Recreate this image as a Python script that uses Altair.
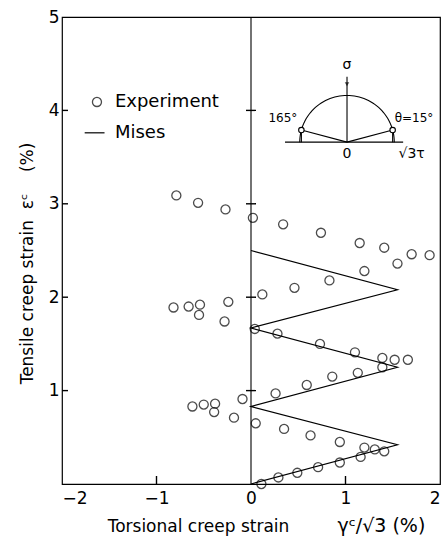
import altair as alt
import pandas as pd
import numpy as np

# ---- data ----
exp_x = [-0.79, -0.56, -0.27, 0.02, 0.34, 0.74, 1.15, 1.41, 1.70, 1.89,
         1.55, 1.20, 0.83, 0.46, 0.12,
         -0.82, -0.66, -0.54, -0.55, -0.24, -0.28,
         0.04, 0.28, 0.73, 1.10, 1.39, 1.52, 1.66,
         1.39, 1.13, 0.86, 0.59, 0.26, -0.09,
         -0.62, -0.50, -0.38, -0.39, -0.18,
         0.05, 0.35, 0.63, 0.94, 1.20, 1.31, 1.41,
         1.16, 0.94, 0.71, 0.49, 0.29, 0.11]
exp_y = [3.09, 3.01, 2.94, 2.85, 2.78, 2.69, 2.58, 2.53, 2.46, 2.45,
         2.36, 2.28, 2.18, 2.10, 2.03,
         1.89, 1.90, 1.92, 1.81, 1.95, 1.74,
         1.66, 1.61, 1.50, 1.41, 1.35, 1.33, 1.33,
         1.25, 1.19, 1.15, 1.06, 0.97, 0.91,
         0.83, 0.85, 0.86, 0.77, 0.71,
         0.65, 0.59, 0.52, 0.45, 0.39, 0.37, 0.35,
         0.29, 0.23, 0.18, 0.12, 0.07, 0.00]

mises_x = [0.0, 1.55, 0.0, 1.55, 0.0, 1.55, 0.0]
mises_y = [0.0, 0.42, 0.83, 1.25, 1.67, 2.08, 2.50]

x_ticks = [-2, -1, 0, 1, 2]
y_ticks = [1, 2, 3, 4, 5]
inner_x_ticks = [-1.0, 1.0]
inner_y_ticks = [1.0, 2.0, 3.0, 4.0]
cross_y = [1.0, 2.0, 3.0, 4.0]

# inset (stress-space sketch) geometry in data units
inset_cx, inset_cy, inset_r = 1.016, 3.66, 0.5
inset_angles = [15, 165]

FONT = "DejaVu Sans"
W, H = 378, 467
NB = "\u00a0"

xs = alt.Scale(domain=[-2, 2], nice=False, zero=False)
ys = alt.Scale(domain=[0, 5], nice=False, zero=False)

exp_df = pd.DataFrame({"x": exp_x, "y": exp_y})
mises_df = pd.DataFrame({"x": mises_x, "y": mises_y, "o": range(len(mises_x))})

points = alt.Chart(exp_df).mark_point(
    shape="circle", filled=False, color="black", size=82, strokeWidth=1.3
).encode(
    x=alt.X("x:Q", scale=xs, axis=alt.Axis(values=x_ticks, format="d", ticks=False, domain=False, grid=False,
                                             labelFontSize=17, labelFont=FONT, labelPadding=6,
                                             labelColor="black",
                                             title="Torsional creep strain",
                                             titleFont=FONT, titleFontSize=17, titleFontWeight="normal",
                                             titleColor="black", titleX=136, titleY=42,
                                             titleAlign="center", titleBaseline="middle")),
    y=alt.Y("y:Q", scale=ys, axis=alt.Axis(values=y_ticks, format="d", ticks=False, domain=False, grid=False,
                                             labelFontSize=17, labelFont=FONT, labelPadding=3,
                                             labelColor="black",
                                             title="Tensile creep strain" + NB * 2 + "εᶜ" + NB * 4 + "(%)",
                                             titleFont=FONT, titleFontSize=17, titleFontWeight="normal",
                                             titleColor="black", titleX=-35, titleY=246, titleAngle=270,
                                             titleAlign="center", titleBaseline="middle")),
)

xmath = alt.Chart(pd.DataFrame({"x": [1.38], "y": [-0.45], "t": ["γᶜ/√3" + NB + "(%)"]})).mark_text(
    align="center", baseline="middle", font=FONT, fontSize=19, color="black").encode(
    x=alt.X("x:Q", scale=xs), y=alt.Y("y:Q", scale=ys), text="t:N")

mises = alt.Chart(mises_df).mark_line(color="black", strokeWidth=1.2).encode(
    x=alt.X("x:Q", scale=xs), y=alt.Y("y:Q", scale=ys), order="o:Q")

zero_line = alt.Chart(pd.DataFrame({"x": [0.0]})).mark_rule(color="black", strokeWidth=1.1).encode(
    x=alt.X("x:Q", scale=xs))

# inward ticks (positions from scales, lengths in pixels)
vticks = alt.Chart(pd.DataFrame({"x": inner_x_ticks})).mark_rule(color="black", strokeWidth=1.4).encode(
    x=alt.X("x:Q", scale=xs), y=alt.value(H), y2=alt.value(H - 8))
hticks = alt.Chart(pd.DataFrame({"y": inner_y_ticks})).mark_rule(color="black", strokeWidth=1.4).encode(
    y=alt.Y("y:Q", scale=ys), x=alt.value(0), x2=alt.value(6))
crosses = alt.Chart(pd.DataFrame({"y": cross_y})).mark_rule(color="black", strokeWidth=1.4).encode(
    y=alt.Y("y:Q", scale=ys), x=alt.value(W / 2 - 5), x2=alt.value(W / 2 + 5))

# legend
leg_pt = alt.Chart(pd.DataFrame({"x": [-1.63], "y": [4.09]})).mark_point(
    shape="circle", filled=False, color="black", size=82, strokeWidth=1.3).encode(
    x=alt.X("x:Q", scale=xs), y=alt.Y("y:Q", scale=ys))
leg_line = alt.Chart(pd.DataFrame({"x": [-1.76], "x2": [-1.55], "y": [3.76]})).mark_rule(
    color="black", strokeWidth=1.2).encode(
    x=alt.X("x:Q", scale=xs), x2="x2:Q", y=alt.Y("y:Q", scale=ys))
leg_txt = alt.Chart(pd.DataFrame({"x": [-1.44, -1.44], "y": [4.09, 3.76],
                                  "t": ["Experiment", "Mises"]})).mark_text(
    align="left", baseline="middle", font=FONT, fontSize=18, color="black").encode(
    x=alt.X("x:Q", scale=xs), y=alt.Y("y:Q", scale=ys), text="t:N")

# inset sketch
th = np.radians(np.arange(0, 181, 3))
arc_df = pd.DataFrame({"x": inset_cx + inset_r * np.cos(th),
                       "y": inset_cy + inset_r * np.sin(th), "o": np.arange(len(th))})
arc = alt.Chart(arc_df).mark_line(color="black", strokeWidth=1.1).encode(
    x=alt.X("x:Q", scale=xs), y=alt.Y("y:Q", scale=ys), order="o:Q")

pa = np.radians(inset_angles)
px_ = inset_cx + inset_r * np.cos(pa)
py_ = inset_cy + inset_r * np.sin(pa)
seg_rows = [
    {"x": 0.36, "y": inset_cy, "x2": 1.61, "y2": inset_cy},
    {"x": inset_cx, "y": inset_cy, "x2": inset_cx, "y2": 4.36},
]
for a, b in zip(px_, py_):
    seg_rows.append({"x": inset_cx, "y": inset_cy, "x2": a, "y2": b})
    seg_rows.append({"x": a, "y": inset_cy, "x2": a, "y2": b})
segs = alt.Chart(pd.DataFrame(seg_rows)).mark_rule(color="black", strokeWidth=1.1).encode(
    x=alt.X("x:Q", scale=xs), y=alt.Y("y:Q", scale=ys), x2="x2:Q", y2="y2:Q")
arrow = alt.Chart(pd.DataFrame({"x": [inset_cx], "y": [4.28]})).mark_point(
    shape="triangle-down", filled=True, color="black", size=20).encode(
    x=alt.X("x:Q", scale=xs), y=alt.Y("y:Q", scale=ys))
ipts = alt.Chart(pd.DataFrame({"x": px_, "y": py_})).mark_point(
    shape="circle", filled=True, fill="white", stroke="black", size=30, strokeWidth=1.1, opacity=1).encode(
    x=alt.X("x:Q", scale=xs), y=alt.Y("y:Q", scale=ys))

lab_df = pd.DataFrame({
    "x": [inset_cx, inset_cx, 1.70, 0.49, 1.52],
    "y": [4.49, 3.53, 3.53, 3.92, 3.92],
    "t": ["σ", "0", "√3τ", "165°", "θ=15°"],
    "a": ["center", "center", "center", "right", "left"],
})
labs_c = alt.Chart(lab_df[lab_df.a == "center"]).mark_text(
    align="center", baseline="middle", font=FONT, fontSize=14, color="black").encode(
    x=alt.X("x:Q", scale=xs), y=alt.Y("y:Q", scale=ys), text="t:N")
labs_r = alt.Chart(lab_df[lab_df.a == "right"]).mark_text(
    align="right", baseline="middle", font=FONT, fontSize=12, color="black").encode(
    x=alt.X("x:Q", scale=xs), y=alt.Y("y:Q", scale=ys), text="t:N")
labs_l = alt.Chart(lab_df[lab_df.a == "left"]).mark_text(
    align="left", baseline="middle", font=FONT, fontSize=12, color="black").encode(
    x=alt.X("x:Q", scale=xs), y=alt.Y("y:Q", scale=ys), text="t:N")

chart = alt.layer(
    zero_line, mises, vticks, hticks, crosses, arc, segs, arrow, ipts,
    labs_c, labs_r, labs_l, leg_pt, leg_line, leg_txt, xmath, points
).properties(
    width=W, height=H,
    autosize=alt.AutoSizeParams(type="none"),
    padding={"left": 62, "top": 17, "right": 3, "bottom": 52},
    background="white",
).configure_view(stroke="black", strokeWidth=1.2)

chart.save("out.html", embed_options={"renderer": "svg", "actions": False})
